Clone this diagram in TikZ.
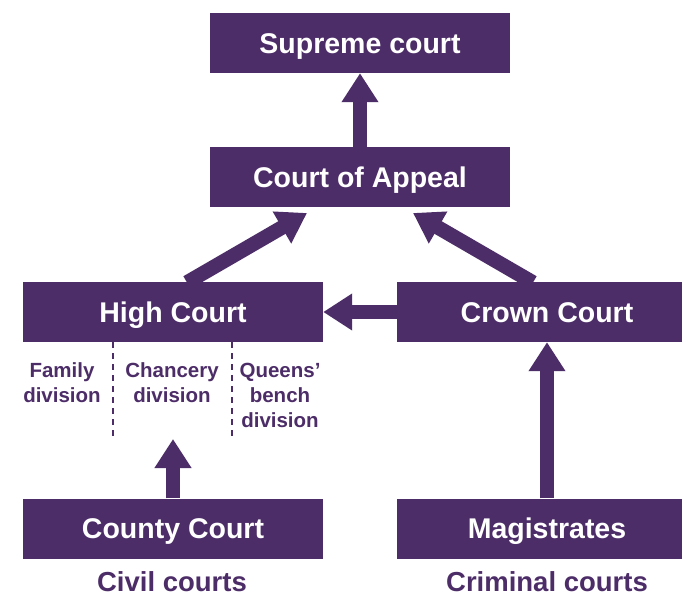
\documentclass[tikz,border=0pt]{standalone}
\usepackage{fontspec}
\setmainfont{Liberation Sans}
\usetikzlibrary{arrows.meta,calc}
\definecolor{crt}{RGB}{77,45,104}
\tikzset{
  box/.style={fill=crt,draw=none,minimum width=300pt,minimum height=60pt,inner sep=0pt,
    text=white,font=\fontsize{28.5}{30}\selectfont\bfseries,text height=25pt,text depth=4.6pt},
  lbl/.style={text=crt,font=\fontsize{20.5}{24.8}\selectfont\bfseries,align=center,inner sep=0pt},
  big/.style={text=crt,font=\fontsize{27.5}{30}\selectfont\bfseries,inner sep=0pt},
  conn/.style={draw=crt,line width=14.5pt,-{Triangle[width=35pt,length=29pt]}},
  divline/.style={draw=crt,line width=2.4pt,dash pattern=on 6pt off 5pt}
}
\begin{document}
\begin{tikzpicture}[x=1pt,y=-1pt]
\useasboundingbox (0,0) rectangle (682,596);
\clip (0,-2) rectangle (682,600);
\fill[white] (0,0) rectangle (682,596);
\node[box] (sup) at (360,43) {Supreme court};
\node[box] (app) at (360,177) {Court of Appeal};
\node[box] (high) at (173,312) {High Court};
\node[box] (crown) at (547,312) {Crown Court};
\node[box] (county) at (173,528.5) {County Court};
\node[box] (mag) at (547,528.5) {Magistrates};
\coordinate (tipL) at (307,213);
\coordinate (tipR) at (413,213);
\coordinate (baseL) at (187,282.5);
\coordinate (baseR) at (533,282.5);
\coordinate (tipC) at (173,439);
\coordinate (d1t) at (113,342);
\coordinate (d1b) at (113,439);
\coordinate (d2t) at (232,342);
\coordinate (d2b) at (232,439);
\draw[conn] (app.north) -- (sup.south);
\draw[conn] (baseL) -- (tipL);
\draw[conn] (baseR) -- (tipR);
\draw[conn] (crown.west) -- (high.east);
\draw[conn] (mag.north) -- (crown.south);
\draw[conn] (county.north) -- (tipC);
\draw[divline] (d1t) -- (d1b);
\draw[divline] (d2t) -- (d2b);
\node[lbl,anchor=base] (fam) at (62,402) {Family\\division};
\node[lbl,anchor=base] (chan) at (172,402) {Chancery\\division};
\node[lbl,anchor=base] (qb) at (280,427) {Queens’\\bench\\division};
\node[big,anchor=base] (civil) at (172,591.5) {Civil courts};
\node[big,anchor=base] (crim) at (547,591.5) {Criminal courts};
\end{tikzpicture}
\end{document}
